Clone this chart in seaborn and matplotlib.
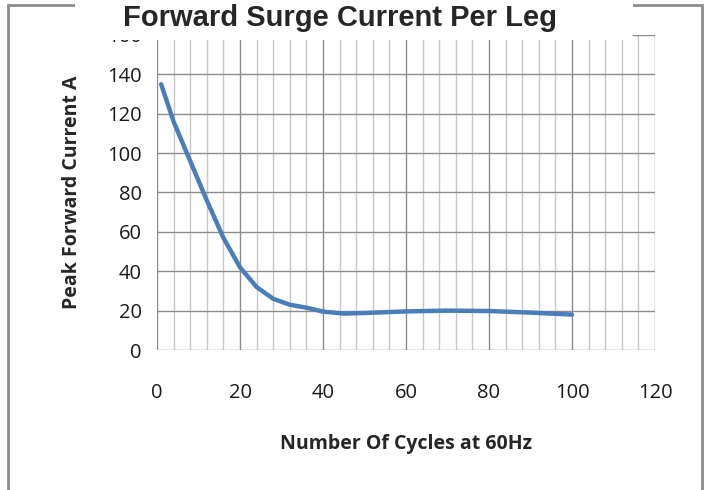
import numpy as np
import pandas as pd
import matplotlib
matplotlib.use('Agg')
import matplotlib.pyplot as plt
import seaborn as sns
from matplotlib.patches import Rectangle

# Valores
cycles = [1, 4, 8, 12, 16, 20, 24, 28, 32, 36, 40, 45, 50, 60, 70, 80, 90, 100]
current = [135, 116, 96, 76, 57, 42, 32, 26, 23, 21.5, 19.5, 18.5, 18.8, 19.6, 20, 19.8, 19, 18]
x_ticks = [0, 20, 40, 60, 80, 100, 120]
y_ticks = [0, 20, 40, 60, 80, 100, 120, 140, 160]

df = pd.DataFrame({'cycles': cycles, 'current': current})

sns.set_style('white')
plt.rcParams['font.family'] = ['Open Sans', 'DejaVu Sans']

fig = plt.figure(figsize=(7.08, 4.9), dpi=100)
ax = fig.add_axes([157 / 708, 1 - 350 / 490, 498 / 708, 315 / 490])

# Grade: verticais a cada 4 (menores) e a cada 20 (maiores)
for v in range(0, 121, 4):
    c = '#8c8c8c' if v % 20 == 0 else '#c8c8c8'
    ax.axvline(v, color=c, lw=1, zorder=0)
for h in y_ticks:
    ax.axhline(h, color='#8c8c8c', lw=1, zorder=0)

sns.lineplot(data=df, x='cycles', y='current', color='#4a7ebb', lw=3.2, ax=ax, zorder=3)

ax.set_xlim(0, 120)
ax.set_ylim(0, 160)
ax.set_xticks(x_ticks)
ax.set_yticks(y_ticks)
for s in ax.spines.values():
    s.set_visible(False)
ax.tick_params(axis='x', length=8, width=1, color='#8c8c8c', pad=16, labelsize=14.5, labelcolor='#1a1a1a')
ax.tick_params(axis='y', length=6, width=1, color='#8c8c8c', pad=5, labelsize=14.5, labelcolor='#1a1a1a')
ax.set_xlabel('Number Of Cycles at 60Hz', fontsize=14, fontweight='bold', labelpad=22)
ax.set_ylabel('Peak Forward Current A', fontsize=14, fontweight='bold', labelpad=18)

# Moldura externa e título sobre fundo branco
fig.add_artist(Rectangle((8 / 708, -0.05), 694 / 708, 1 - 5 / 490 + 0.05, transform=fig.transFigure,
                         fill=False, edgecolor='#8c8c8c', lw=2, zorder=5))
fig.add_artist(Rectangle((75 / 708, 1 - 40 / 490), 558 / 708, 38 / 490, transform=fig.transFigure,
                         facecolor='white', edgecolor='none', zorder=6))
fig.text(340 / 708, 1 - 18 / 490, 'Forward Surge Current Per Leg', ha='center', va='center',
         fontsize=21, fontweight='bold', family=['Liberation Sans', 'DejaVu Sans'], zorder=7)

fig.savefig('out.png', dpi=100)
